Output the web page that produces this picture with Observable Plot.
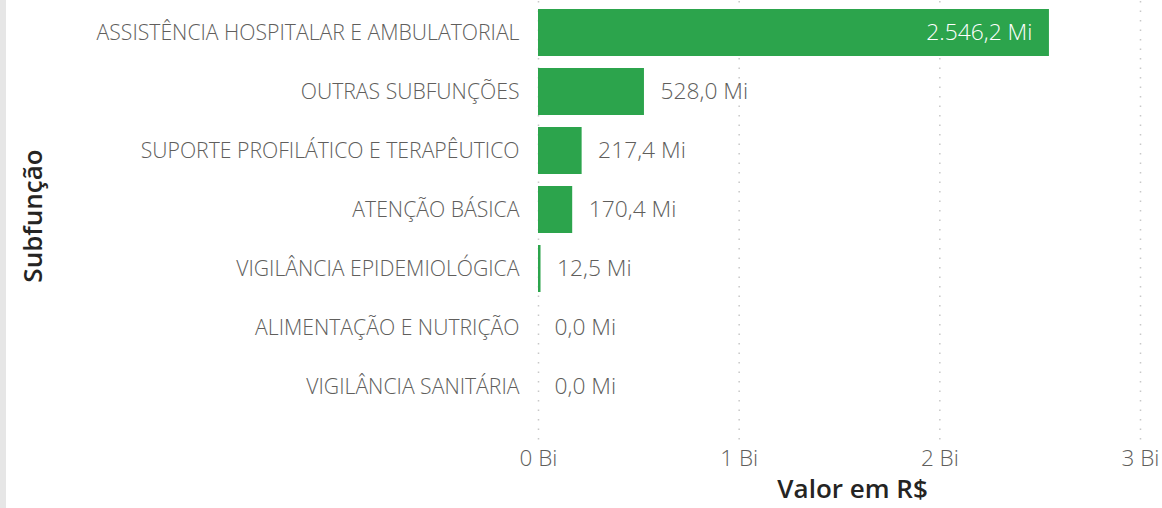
<!DOCTYPE html>
<html>
<head>
<meta charset="utf-8">
<script src="https://cdn.jsdelivr.net/npm/d3@7"></script>
<script src="https://cdn.jsdelivr.net/npm/@observablehq/plot@0.6"></script>
<style>
  html, body { margin: 0; padding: 0; background: #fff; }
  #wrap { position: relative; width: 1162px; height: 508px; overflow: hidden; }
  #edge { position: absolute; left: 0; top: 0; width: 6px; height: 508px; background: #e6e6e6; }
  #chart { position: absolute; left: 0; top: 0; }
</style>
</head>
<body>
<div id="wrap"><div id="edge"></div><div id="chart"></div></div>
<script>
const categories = [
  "ASSISTÊNCIA HOSPITALAR E AMBULATORIAL",
  "OUTRAS SUBFUNÇÕES",
  "SUPORTE PROFILÁTICO E TERAPÊUTICO",
  "ATENÇÃO BÁSICA",
  "VIGILÂNCIA EPIDEMIOLÓGICA",
  "ALIMENTAÇÃO E NUTRIÇÃO",
  "VIGILÂNCIA SANITÁRIA"
];
const valuesMi = [2546.2, 528.0, 217.4, 170.4, 12.5, 0.0, 0.0];
const xTicks = [0, 1000, 2000, 3000];
const xTickLabels = ["0 Bi", "1 Bi", "2 Bi", "3 Bi"];
const xTitle = "Valor em R$";
const yTitle = "Subfunção";

const data = categories.map((c, i) => ({cat: c, v: valuesMi[i]}));
const br = d3.formatLocale({decimal: ",", thousands: ".", grouping: [3], currency: ["R$ ", ""]});
const fmt = v => br.format(",.1f")(v) + " Mi";
const maxV = d3.max(valuesMi);
const inside = data.filter(d => d.v === maxV);
const outside = data.filter(d => d.v !== maxV);

const font = "'Open Sans', 'Noto Sans', sans-serif";
const green = "#2ca44c";

const chart = Plot.plot({
  width: 1162,
  height: 508,
  marginLeft: 538,
  marginRight: 22,
  marginTop: 1,
  marginBottom: 68,
  style: {fontFamily: font, background: "transparent"},
  x: {domain: [0, 3000]},
  y: {domain: categories, paddingInner: 0.2, paddingOuter: 0.1, insetBottom: 22},
  marks: [
    Plot.ruleX(xTicks, {stroke: "#c8c8c8", strokeWidth: 1.5, strokeDasharray: "1.5,8", strokeOpacity: 1}),
    Plot.barX(data, {x: "v", y: "cat", fill: green}),
    Plot.text(outside, {x: "v", y: "cat", text: d => fmt(d.v), textAnchor: "start", dx: 16, fill: "#605e5c", fontSize: 22.8, fontWeight: 300}),
    Plot.text(inside, {x: "v", y: "cat", text: d => fmt(d.v), textAnchor: "end", dx: -17, fill: "#ffffff", fontSize: 22.8, fontWeight: 300}),
    Plot.axisY({tickSize: 0, tickPadding: 19, fontSize: 21.2, fontWeight: 300, color: "#605e5c", label: null}),
    Plot.axisX({ticks: xTicks, tickFormat: d => xTickLabels[xTicks.indexOf(d)], tickSize: 0, tickPadding: 10, fontSize: 22.5, fontWeight: 300, color: "#605e5c", label: null}),
    Plot.text([xTitle], {frameAnchor: "bottom", dy: 57, fontSize: 26, fontWeight: 600, fill: "#252423", x: () => 1565}),
    Plot.text([yTitle], {frameAnchor: "left", textAnchor: "middle", dx: -505, dy: -5, rotate: -90, fontSize: 26, fontWeight: 600, fill: "#252423"})
  ]
});
document.getElementById("chart").appendChild(chart);
</script>
</body>
</html>
